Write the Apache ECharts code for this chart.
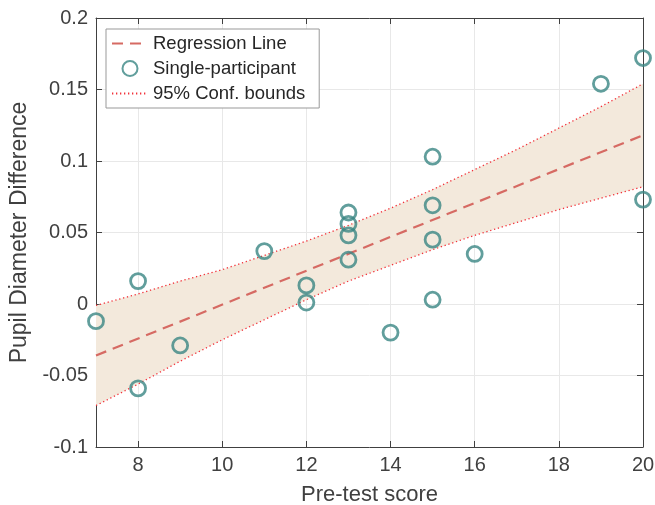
<!DOCTYPE html>
<html>
<head>
<meta charset="utf-8">
<script src="https://cdn.jsdelivr.net/npm/echarts@6/dist/echarts.min.js"></script>
<style>
  html, body { margin: 0; padding: 0; background: #fff; }
  #main { width: 655px; height: 505px; }
</style>
</head>
<body>
<div id="main"></div>
<script>
// participants (pre-test score, pupil diameter difference)
var scoreX = [7, 8, 8, 9, 11, 12, 12, 13, 13, 13, 13, 14, 15, 15, 15, 15, 16, 19, 20, 20];
var pupilY = [-0.012, 0.016, -0.059, -0.029, 0.037, 0.013, 0.001, 0.064, 0.056, 0.048, 0.031,
              -0.020, 0.103, 0.069, 0.045, 0.003, 0.035, 0.154, 0.172, 0.073];

// regression line end points
var fitX = [7, 20];
var fitY = [-0.036, 0.118];

// confidence bounds read at each integer score
var boundX = [7, 8, 9, 10, 11, 12, 13, 14, 15, 16, 17, 18, 19, 20];
var upperY = [-0.001, 0.007, 0.016, 0.024, 0.034, 0.044, 0.055, 0.067, 0.080, 0.094, 0.108, 0.123, 0.138, 0.154];
var lowerY = [-0.071, -0.056, -0.040, -0.025, -0.011, 0.003, 0.016, 0.027, 0.038, 0.048, 0.057, 0.066, 0.074, 0.082];

var xTicks = [8, 10, 12, 14, 16, 18, 20];

var font = 'Liberation Sans, Helvetica, Arial, sans-serif';
var axisColor = '#404040';

function pairs(xs, ys) {
  return xs.map(function (x, i) { return [x, ys[i]]; });
}

var chart = echarts.init(document.getElementById('main'));

var option = {
  animation: false,
  grid: { left: 96, right: 12, top: 18, bottom: 58, outerBoundsMode: 'none' },
  legend: {
    left: 106, top: 29,
    orient: 'vertical',
    backgroundColor: '#fff',
    borderColor: '#999',
    borderWidth: 1,
    borderRadius: 0,
    padding: [5, 14, 5, 5],
    itemGap: 6,
    itemWidth: 36,
    itemHeight: 15,
    textStyle: { fontFamily: font, fontSize: 18.5, color: '#262626' },
    data: [
      { name: 'Regression Line', itemStyle: { opacity: 0 } },
      { name: 'Single-participant' },
      { name: '95% Conf. bounds', itemStyle: { opacity: 0 } }
    ]
  },
  xAxis: [{
    type: 'value', min: 7, max: 20,
    name: 'Pre-test score', nameLocation: 'middle', nameGap: 37,
    nameTextStyle: { fontFamily: font, fontSize: 22, color: axisColor },
    axisLine: { onZero: false, lineStyle: { color: axisColor, width: 1 } },
    axisTick: { inside: true, length: 6, customValues: xTicks, lineStyle: { color: axisColor } },
    axisLabel: { customValues: xTicks, fontFamily: font, fontSize: 20, color: axisColor, margin: 8 },
    splitLine: { show: true, lineStyle: { color: '#e8e8e8' } }
  }, {
    type: 'value', min: 7, max: 20, position: 'top',
    axisLine: { show: true, onZero: false, lineStyle: { color: axisColor } },
    axisTick: { inside: true, length: 6, customValues: xTicks, lineStyle: { color: axisColor } },
    axisLabel: { show: false },
    splitLine: { show: false }
  }],
  yAxis: [{
    type: 'value', min: -0.1, max: 0.2, interval: 0.05,
    name: 'Pupil Diameter Difference', nameLocation: 'middle', nameGap: 63,
    nameTextStyle: { fontFamily: font, fontSize: 23, color: axisColor },
    axisLine: { show: true, onZero: false, lineStyle: { color: axisColor } },
    axisTick: { show: true, inside: true, length: 6, lineStyle: { color: axisColor } },
    axisLabel: {
      fontFamily: font, fontSize: 20, color: axisColor, margin: 8,
      formatter: function (v) { return String(+v.toFixed(2)); }
    },
    splitLine: { show: true, lineStyle: { color: '#e8e8e8' } }
  }, {
    type: 'value', min: -0.1, max: 0.2, interval: 0.05, position: 'right',
    axisLine: { show: true, onZero: false, lineStyle: { color: axisColor } },
    axisTick: { show: true, inside: true, length: 6, lineStyle: { color: axisColor } },
    axisLabel: { show: false },
    splitLine: { show: false }
  }],
  series: [
    {
      name: 'band', type: 'custom', silent: true, z: 1,
      data: [0],
      renderItem: function (params, api) {
        var pts = [];
        boundX.forEach(function (x, i) { pts.push(api.coord([x, upperY[i]])); });
        for (var i = boundX.length - 1; i >= 0; i--) pts.push(api.coord([boundX[i], lowerY[i]]));
        return {
          type: 'polygon',
          shape: { points: pts, smooth: 0 },
          style: { fill: '#f3e9dc' }
        };
      }
    },
    {
      name: '95% Conf. bounds', type: 'line', data: pairs(boundX, upperY), z: 2,
      symbol: 'none', color: '#f2323a',
      lineStyle: { color: '#f2323a', width: 1.3, type: [1.3, 2.7] }
    },
    {
      name: '95% Conf. bounds', type: 'line', data: pairs(boundX, lowerY), z: 2,
      symbol: 'none', color: '#f2323a',
      lineStyle: { color: '#f2323a', width: 1.3, type: [1.3, 2.7] }
    },
    {
      name: 'Regression Line', type: 'line', data: pairs(fitX, fitY), z: 3,
      symbol: 'none', color: '#d66a63',
      lineStyle: { color: '#d66a63', width: 2.2, type: [11, 7] }
    },
    {
      name: 'Single-participant', type: 'scatter', data: pairs(scoreX, pupilY), z: 4,
      symbol: 'circle', symbolSize: 15,
      itemStyle: { color: 'rgba(0,0,0,0)', borderColor: '#3a8683', borderWidth: 2.8 }
    }
  ]
};

chart.setOption(option);
</script>
</body>
</html>
